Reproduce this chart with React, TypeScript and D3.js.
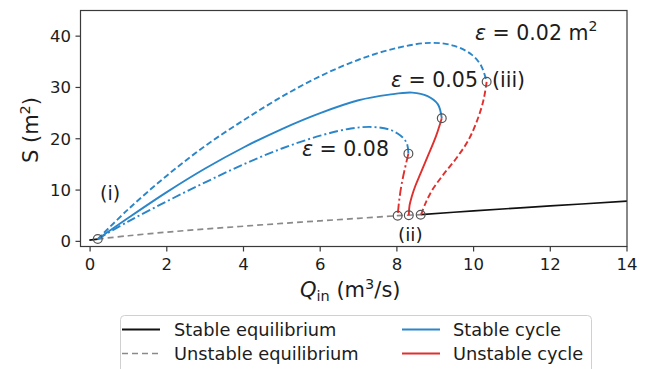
import React from "react";
import * as d3 from "d3";

type P = [number, number];

const xTicks = [0, 2, 4, 6, 8, 10, 12, 14];
const yTicks = [0, 10, 20, 30, 40];

// stable equilibrium (black solid)
const stableEqLow: P[] = [[-0.02, 0.25], [0.2, 0.45]];
const stableEqHigh: P[] = [[8.62, 5.2], [10, 5.95], [12, 6.9], [14, 7.85]];
// unstable equilibrium (grey dashed)
const unstableEq: P[] = [[0.2, 0.45], [1, 1.1], [2, 1.8], [3, 2.4], [4, 2.95], [5, 3.5], [6, 4.0], [7, 4.5], [8.02, 5.0], [8.62, 5.2]];

// stable cycles (blue)
const stable002: P[] = [[0.2, 0.45], [1, 6.3], [2, 12.8], [3, 18.6], [4, 23.6], [5, 28.2], [6, 32.2], [7, 35.4], [8, 37.7], [8.9, 38.7], [9.5, 38.1], [9.95, 36.4], [10.2, 34.2], [10.34, 31.1]];
const stable005: P[] = [[0.2, 0.45], [1, 4.6], [2, 9.6], [3, 14.2], [4, 18.3], [5, 21.9], [6, 25.0], [7, 27.5], [7.8, 28.6], [8.4, 29.0], [8.8, 28.3], [9.07, 26.7], [9.17, 24.0]];
const stable008: P[] = [[0.2, 0.45], [1, 3.9], [2, 7.8], [3, 11.5], [4, 15.0], [5, 18.1], [6, 20.6], [6.8, 22.0], [7.35, 22.3], [7.8, 21.8], [8.1, 20.6], [8.26, 19.1], [8.3, 17.1]];

// unstable cycles (red)
const unstable002: P[] = [[10.34, 31.1], [10.26, 27.6], [10.1, 23.7], [9.87, 19.8], [9.56, 16.3], [9.22, 13.1], [8.93, 10.1], [8.75, 7.5], [8.63, 5.2]];
const unstable005: P[] = [[9.17, 24.0], [9.02, 20.5], [8.8, 16.5], [8.62, 13.3], [8.48, 10.8], [8.39, 8.8], [8.33, 7.0], [8.31, 5.1]];
const unstable008: P[] = [[8.3, 17.1], [8.2, 13.9], [8.12, 11.0], [8.06, 8.0], [8.02, 5.0]];

const markers: P[] = [[0.2, 0.45], [8.02, 5.0], [8.31, 5.1], [8.62, 5.2], [8.3, 17.1], [9.17, 24.0], [10.34, 31.1]];

const BLUE = "#2b86c9";
const RED = "#e0302e";
const GREY = "#8a8a8a";
const TXT = "#1c1c1c";
const FONT = "'DejaVu Sans', sans-serif";

export default function App() {
  const W = 647, H = 369;
  const left = 80.5, right = 627, top = 10.5, bottom = 246.5;
  const x = d3.scaleLinear().domain([-0.25, 14]).range([left, right]);
  const y = d3.scaleLinear().domain([-1, 45]).range([bottom, top]);
  const line = d3.line<P>().x(d => x(d[0])).y(d => y(d[1])).curve(d3.curveCatmullRom.alpha(0.5));
  const lw = 1.9;
  const dash = "6,3";
  const dashdot = "9,3,2,3";
  const AF = 20.5;

  return (
    <svg width={W} height={H} style={{ position: "absolute", left: 0, top: 0, background: "#fff" }} fontFamily={FONT}>
      <defs>
        <clipPath id="plot"><rect x={left} y={top} width={right - left} height={bottom - top} /></clipPath>
      </defs>
      <g clipPath="url(#plot)">
        <path d={line(unstableEq)!} fill="none" stroke={GREY} strokeWidth={1.7} strokeDasharray="6,4" />
        <path d={line(stableEqLow)!} fill="none" stroke="#111" strokeWidth={1.7} />
        <path d={line(stableEqHigh)!} fill="none" stroke="#111" strokeWidth={1.7} />
        <path d={line(stable002)!} fill="none" stroke={BLUE} strokeWidth={lw} strokeDasharray={dash} />
        <path d={line(stable005)!} fill="none" stroke={BLUE} strokeWidth={lw} />
        <path d={line(stable008)!} fill="none" stroke={BLUE} strokeWidth={lw} strokeDasharray={dashdot} />
        <path d={line(unstable002)!} fill="none" stroke={RED} strokeWidth={lw} strokeDasharray={dash} />
        <path d={line(unstable005)!} fill="none" stroke={RED} strokeWidth={lw} />
        <path d={line(unstable008)!} fill="none" stroke={RED} strokeWidth={lw} strokeDasharray={dashdot} />
        {markers.map((m, i) => (
          <circle key={i} cx={x(m[0])} cy={y(m[1])} r={4.4} fill="none" stroke="#555" strokeWidth={1.2} />
        ))}
      </g>
      {/* frame */}
      <rect x={left} y={top} width={right - left} height={bottom - top} fill="none" stroke="#3a3a3a" strokeWidth={1.2} />
      {xTicks.map(t => (
        <g key={"x" + t}>
          <line x1={x(t)} x2={x(t)} y1={bottom} y2={bottom + 5} stroke="#3a3a3a" strokeWidth={1.2} />
          <text x={x(t)} y={270} textAnchor="middle" fontSize={16.5} fill={TXT}>{t}</text>
        </g>
      ))}
      {yTicks.map(t => (
        <g key={"y" + t}>
          <line x1={left - 5} x2={left} y1={y(t)} y2={y(t)} stroke="#3a3a3a" strokeWidth={1.2} />
          <text x={71} y={y(t) + 6} textAnchor="end" fontSize={16.5} fill={TXT}>{t}</text>
        </g>
      ))}
      {/* axis labels */}
      <text x={300} y={297} fontSize={21} fill={TXT}>
        <tspan fontStyle="italic">Q</tspan>
        <tspan fontSize={14.5} dy={4}>in</tspan>
        <tspan dy={-4}> (m</tspan>
        <tspan fontSize={14.5} dy={-8}>3</tspan>
        <tspan dy={8}>/s)</tspan>
      </text>
      <text transform={`translate(38,130) rotate(-90)`} textAnchor="middle" fontSize={21} fill={TXT}>
        <tspan>S (m</tspan>
        <tspan fontSize={14.5} dy={-8}>2</tspan>
        <tspan dy={8}>)</tspan>
      </text>
      {/* annotations */}
      <text x={475} y={40} fontSize={AF} fill={TXT}>
        <tspan fontStyle="italic">ε</tspan>
        <tspan> = 0.02 m</tspan>
        <tspan fontSize={14} dy={-9}>2</tspan>
      </text>
      <text x={391} y={87} fontSize={AF} fill={TXT}>
        <tspan fontStyle="italic">ε</tspan>
        <tspan> = 0.05</tspan>
      </text>
      <text x={492} y={87} fontSize={AF} fill={TXT}>(iii)</text>
      <text x={302} y={156} fontSize={AF} fill={TXT}>
        <tspan fontStyle="italic">ε</tspan>
        <tspan> = 0.08</tspan>
      </text>
      <text x={100} y={200} fontSize={19} fill={TXT}>(i)</text>
      <text x={398} y={241} fontSize={18.5} fill={TXT}>(ii)</text>
      {/* legend */}
      <rect x={120.5} y={315.5} width={471} height={70} rx={4} fill="#fff" stroke="#d0d0d0" strokeWidth={1} />
      <line x1={122} x2={160} y1={329.5} y2={329.5} stroke="#111" strokeWidth={1.9} />
      <text x={174} y={335.5} fontSize={17.8} fill={TXT}>Stable equilibrium</text>
      <line x1={122} x2={160} y1={353.5} y2={353.5} stroke={GREY} strokeWidth={1.7} strokeDasharray="6,4" />
      <text x={174} y={359.5} fontSize={17.8} fill={TXT}>Unstable equilibrium</text>
      <line x1={402} x2={440} y1={329.5} y2={329.5} stroke={BLUE} strokeWidth={1.9} />
      <text x={453} y={335.5} fontSize={17.8} fill={TXT}>Stable cycle</text>
      <line x1={402} x2={440} y1={353.5} y2={353.5} stroke={RED} strokeWidth={1.9} />
      <text x={453} y={359.5} fontSize={17.8} fill={TXT}>Unstable cycle</text>
    </svg>
  );
}
